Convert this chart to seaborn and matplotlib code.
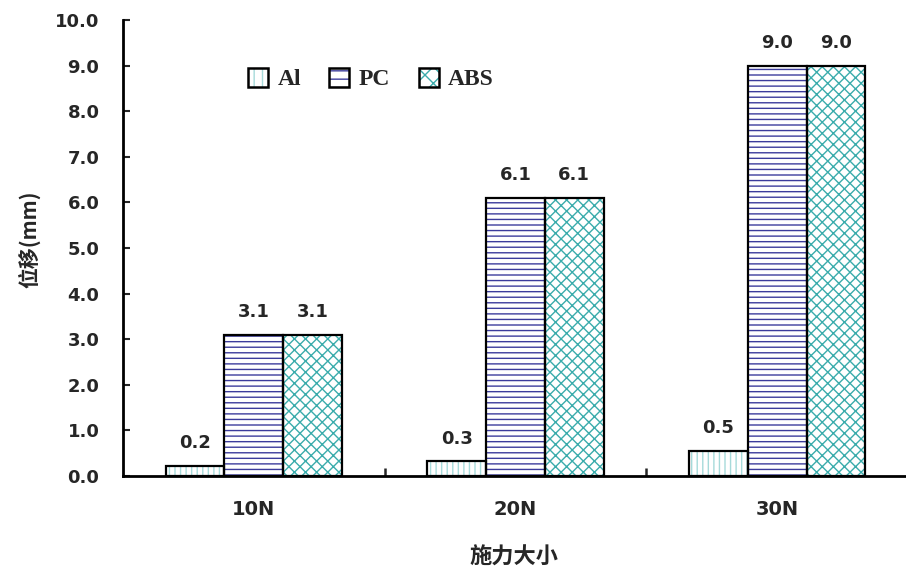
#!/usr/bin/env python3
"""Displacement vs applied force, grouped hatched bars (Al / PC / ABS)."""

import numpy as np
import pandas as pd

import matplotlib
matplotlib.use("Agg")
import matplotlib.pyplot as plt
from matplotlib.patches import Rectangle, Patch
import seaborn as sns


FORCES = ["10N", "20N", "30N"]
MATERIALS = ["Al", "PC", "ABS"]
AL_VALUES = [0.22, 0.32, 0.54]
PC_VALUES = [3.1, 6.1, 9.0]
ABS_VALUES = [3.1, 6.1, 9.0]
Y_TICKS = [0, 1, 2, 3, 4, 5, 6, 7, 8, 9, 10]

HATCHES = {"Al": "|||", "PC": "---", "ABS": "xxx"}
HATCH_COLORS = {"Al": "#a6dada", "PC": "#3c3c9c", "ABS": "#3aacac"}

CJK = ["Noto Sans CJK SC", "DejaVu Sans"]


def main() -> None:
    sns.set_theme(style="white")
    plt.rcParams.update({
        "font.family": ["DejaVu Sans"],
        "hatch.linewidth": 1.0,
        "figure.facecolor": "white",
        "axes.facecolor": "white",
    })

    df = pd.DataFrame({
        "force": FORCES * 3,
        "material": [m for m in MATERIALS for _ in FORCES],
        "disp": AL_VALUES + PC_VALUES + ABS_VALUES,
    })

    fig = plt.figure(figsize=(9.06, 5.72), dpi=100)
    ax = fig.add_axes([123 / 906, 96 / 572, 785 / 906, 456 / 572])

    sns.barplot(data=df, x="force", y="disp", hue="material", order=FORCES,
                hue_order=MATERIALS, palette=["white"] * 3, width=0.673,
                gap=0, legend=False, errorbar=None, ax=ax)

    handles = []
    for mat, cont in zip(MATERIALS, ax.containers):
        for p in cont:
            p.set_hatch(HATCHES[mat])
            p.set_edgecolor(HATCH_COLORS[mat])
            p.set_linewidth(0)
            ax.add_patch(Rectangle((p.get_x(), p.get_y()), p.get_width(), p.get_height(),
                                   fill=False, edgecolor="black", linewidth=1.6, zorder=3))
        ax.bar_label(cont, fmt="%.1f", padding=10, fontsize=13, fontweight="bold")
        handles.append((Patch(facecolor="white", edgecolor=HATCH_COLORS[mat],
                              hatch=HATCHES[mat][:2], linewidth=0),
                        Patch(facecolor="none", edgecolor="black", linewidth=1.8)))

    ax.set_xlim(-0.5, 2.5)
    ax.set_ylim(0, 10)
    ax.set_yticks(Y_TICKS)
    ax.set_yticklabels([f"{v:.1f}" for v in Y_TICKS])
    ax.set_xticks(range(len(FORCES)))
    ax.set_xticklabels(FORCES)
    ax.set_xticks([0.5, 1.5], minor=True)

    for lab in ax.get_yticklabels():
        lab.set_fontweight("bold")
        lab.set_fontsize(13)
    for lab in ax.get_xticklabels():
        lab.set_fontweight("bold")
        lab.set_fontsize(14)

    ax.tick_params(axis="y", direction="in", length=5, width=1.5, pad=17, left=True)
    ax.tick_params(axis="x", which="major", length=0, pad=17)
    ax.tick_params(axis="x", which="minor", direction="in", length=6, width=1.8, bottom=True)

    for side in ["top", "right"]:
        ax.spines[side].set_visible(False)
    for side in ["left", "bottom"]:
        ax.spines[side].set_color("black")
        ax.spines[side].set_linewidth(2)

    ax.set_xlabel("施力大小", family=CJK, fontsize=16, fontweight="bold")
    ax.set_ylabel("位移(mm)", family=CJK, fontsize=15, fontweight="bold")
    ax.xaxis.set_label_coords(0.498, -0.152)
    ax.yaxis.set_label_coords(-0.105, 0.52)

    ax.legend(handles, MATERIALS, loc="upper left", bbox_to_anchor=(0.159, 0.895),
              ncol=3, frameon=False, handlelength=0.85, handleheight=0.85,
              handletextpad=0.4, columnspacing=1.2, borderpad=0, borderaxespad=0,
              prop={"family": "Liberation Serif", "weight": "bold", "size": 17})

    fig.savefig("out.png", dpi=100)
    plt.close(fig)


if __name__ == "__main__":
    main()
